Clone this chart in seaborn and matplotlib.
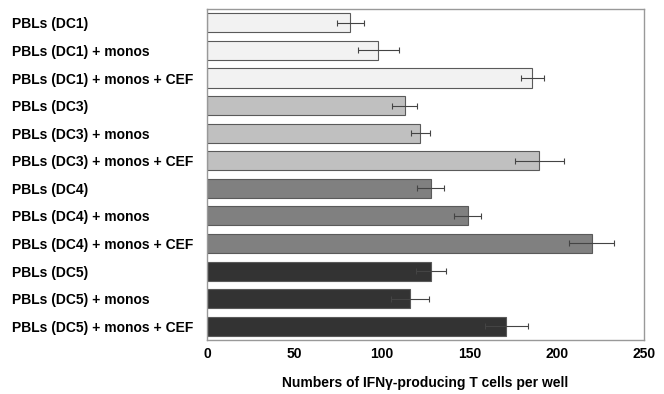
import matplotlib
matplotlib.use("Agg")
import matplotlib.pyplot as plt
import seaborn as sns
import pandas as pd

labels = [
    "PBLs (DC1)", "PBLs (DC1) + monos", "PBLs (DC1) + monos + CEF",
    "PBLs (DC3)", "PBLs (DC3) + monos", "PBLs (DC3) + monos + CEF",
    "PBLs (DC4)", "PBLs (DC4) + monos", "PBLs (DC4) + monos + CEF",
    "PBLs (DC5)", "PBLs (DC5) + monos", "PBLs (DC5) + monos + CEF",
]
values = [82, 98, 186, 113, 122, 190, 128, 149, 220, 128, 116, 171]
errors = [7.5, 11.5, 6.6, 7.3, 5.5, 14, 7.8, 7.5, 13, 8.6, 11, 12.3]
colors = ["#f2f2f2"] * 3 + ["#c0c0c0"] * 3 + ["#808080"] * 3 + ["#333333"] * 3

df = pd.DataFrame({"label": labels, "value": values, "err": errors})

sns.set_style("white")
plt.rcParams["font.family"] = ["Liberation Sans", "DejaVu Sans"]

fig = plt.figure(figsize=(6.64, 3.94), dpi=100)
ax = fig.add_axes([0.312, 0.137, 0.658, 0.840])

sns.barplot(data=df, x="value", y="label", hue="label", palette=colors,
            legend=False, width=0.69, edgecolor="#5a5a5a", linewidth=0.8, ax=ax)
ax.errorbar(df["value"], range(len(df)), xerr=df["err"], fmt="none",
            ecolor="#444444", elinewidth=0.8, capsize=2, capthick=0.8)

ax.set_xlim(0, 250)
ax.set_ylim(11.5, -0.5)
ax.set_xticks([0, 50, 100, 150, 200, 250])
ax.set_ylabel("")
ax.set_xlabel("Numbers of IFN\u03b3-producing T cells per well",
              fontsize=10, fontweight="bold", color="black", labelpad=11)
ax.tick_params(axis="both", length=0, labelsize=10, labelcolor="black")
ax.tick_params(axis="y", pad=140.4)
ax.tick_params(axis="x", pad=5)
for t in ax.get_yticklabels():
    t.set_horizontalalignment("left")
for t in ax.get_xticklabels() + ax.get_yticklabels():
    t.set_fontweight("bold")
for s in ax.spines.values():
    s.set_color("#999999")
    s.set_linewidth(1.0)

fig.savefig("out.png", dpi=100)
